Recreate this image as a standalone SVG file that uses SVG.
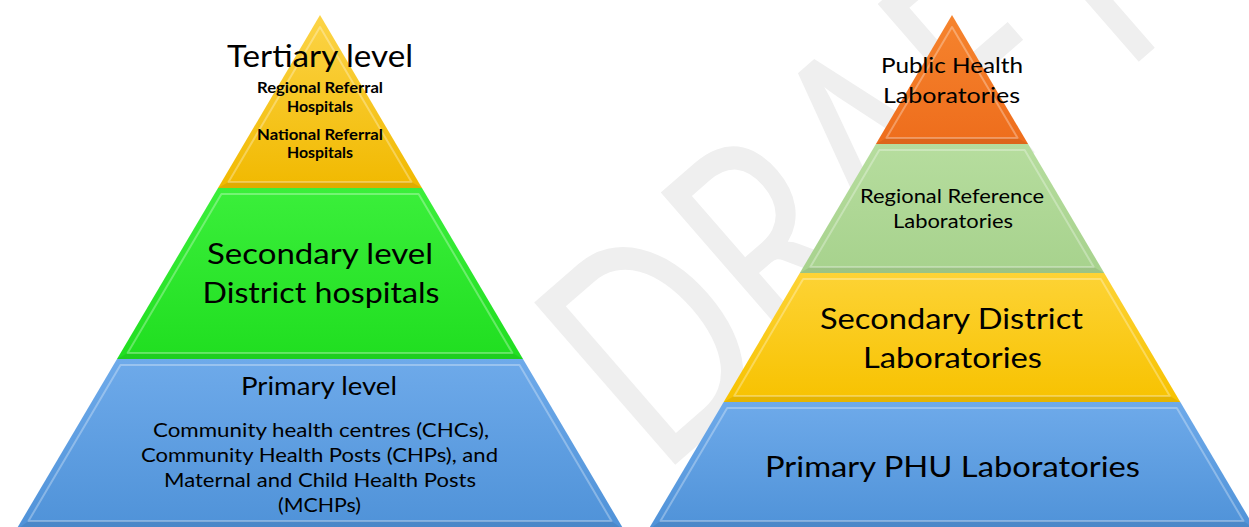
<svg xmlns="http://www.w3.org/2000/svg" width="1249" height="527" viewBox="0 0 1249 527">
<defs>
  <linearGradient id="gGold" x1="0" y1="0" x2="0" y2="1"><stop offset="0" stop-color="#fcd447"/><stop offset="1" stop-color="#f1b900"/></linearGradient>
  <linearGradient id="gGreen" x1="0" y1="0" x2="0" y2="1"><stop offset="0" stop-color="#3bef3b"/><stop offset="1" stop-color="#20de20"/></linearGradient>
  <linearGradient id="gBlue" x1="0" y1="0" x2="0" y2="1"><stop offset="0" stop-color="#6eaaea"/><stop offset="1" stop-color="#4f92d8"/></linearGradient>
  <linearGradient id="gOrange" x1="0" y1="0" x2="0" y2="1"><stop offset="0" stop-color="#f6842e"/><stop offset="1" stop-color="#ee6d1c"/></linearGradient>
  <linearGradient id="gLGreen" x1="0" y1="0" x2="0" y2="1"><stop offset="0" stop-color="#b6dd9e"/><stop offset="1" stop-color="#a7d28d"/></linearGradient>
  <linearGradient id="gYellow" x1="0" y1="0" x2="0" y2="1"><stop offset="0" stop-color="#fdd335"/><stop offset="1" stop-color="#f7c200"/></linearGradient>
</defs>
<style>
  .t{font-family:Lato,"Open Sans","Liberation Sans",sans-serif;fill:#000;text-anchor:middle}
  .b{font-weight:700}
  .hl{fill:none;stroke:#ffffff;stroke-opacity:0.3;stroke-width:2;stroke-linejoin:round}
  .sh{fill:#000;fill-opacity:0.07}
  .wm{font-family:Lato,"Open Sans","Liberation Sans",sans-serif;font-weight:400;fill:#efefef}
</style>
<rect width="1249" height="527" fill="#ffffff"/>
<g id="watermark">
  <text class="wm" transform="translate(660,478) rotate(-41)" font-size="300" textLength="710" lengthAdjust="spacingAndGlyphs">DRAFT</text>
</g>
<g id="left-pyramid">
  <g id="tertiary">
    <polygon points="320,15 422,188 218,188" fill="url(#gGold)"/>
    <polygon class="sh" points="218,188 422,188 411.5,182 228.5,182"/>
    <polygon class="hl" points="320,27 411.5,182 228.5,182"/>
    <text class="t" x="320" y="67" font-size="31" textLength="186" lengthAdjust="spacingAndGlyphs">Tertiary level</text>
    <text class="t b" x="320" y="93" font-size="15.5" textLength="126" lengthAdjust="spacingAndGlyphs">Regional Referral</text>
    <text class="t b" x="320" y="112" font-size="15.5" textLength="66" lengthAdjust="spacingAndGlyphs">Hospitals</text>
    <text class="t b" x="320" y="140" font-size="15.5" textLength="126" lengthAdjust="spacingAndGlyphs">National Referral</text>
    <text class="t b" x="320" y="158" font-size="15.5" textLength="66" lengthAdjust="spacingAndGlyphs">Hospitals</text>
  </g>
  <g id="secondary">
    <polygon points="218,188 422,188 523,359 117,359" fill="url(#gGreen)"/>
    <polygon class="sh" points="117,359 523,359 512.4,353 127.6,353"/>
    <polygon class="hl" points="221.4,194 418.6,194 512.4,353 127.6,353"/>
    <text class="t" x="320" y="264" font-size="29" textLength="226" lengthAdjust="spacingAndGlyphs">Secondary level</text>
    <text class="t" x="321" y="303" font-size="29" textLength="237" lengthAdjust="spacingAndGlyphs">District hospitals</text>
  </g>
  <g id="primary">
    <polygon points="117,359 523,359 624,530 16,530" fill="url(#gBlue)"/>
    <polygon class="sh" points="16,530 624,530 611.5,521 28.5,521"/>
    <polygon class="hl" points="120.5,365 519.5,365 611.5,521 28.5,521"/>
    <text class="t" x="319" y="395" font-size="25" textLength="156" lengthAdjust="spacingAndGlyphs">Primary level</text>
    <text class="t" x="321" y="437" font-size="20" textLength="336" lengthAdjust="spacingAndGlyphs">Community health centres (CHCs),</text>
    <text class="t" x="319.5" y="462" font-size="20" textLength="357" lengthAdjust="spacingAndGlyphs">Community Health Posts (CHPs), and</text>
    <text class="t" x="320" y="487" font-size="20" textLength="312" lengthAdjust="spacingAndGlyphs">Maternal and Child Health Posts</text>
    <text class="t" x="319.5" y="512" font-size="20" textLength="83" lengthAdjust="spacingAndGlyphs">(MCHPs)</text>
  </g>
</g>
<g id="right-pyramid">
  <g id="public-health-labs">
    <polygon points="952,15 1028.1,144 875.9,144" fill="url(#gOrange)"/>
    <polygon class="sh" points="875.9,144 1028.1,144 1017.6,138 886.4,138"/>
    <polygon class="hl" points="952,27 1017.6,138 886.4,138"/>
    <text class="t" x="952" y="73" font-size="22" textLength="142" lengthAdjust="spacingAndGlyphs">Public Health</text>
    <text class="t" x="951.5" y="103" font-size="22" textLength="137" lengthAdjust="spacingAndGlyphs">Laboratories</text>
  </g>
  <g id="regional-labs">
    <polygon points="875.9,144 1028.1,144 1104.2,273 799.8,273" fill="url(#gLGreen)"/>
    <polygon class="sh" points="799.8,273 1104.2,273 1093.7,267 810.3,267"/>
    <polygon class="hl" points="879.35,150 1024.65,150 1093.7,267 810.3,267"/>
    <text class="t" x="952" y="203" font-size="19.5" textLength="184" lengthAdjust="spacingAndGlyphs">Regional Reference</text>
    <text class="t" x="953" y="228" font-size="19.5" textLength="120" lengthAdjust="spacingAndGlyphs">Laboratories</text>
  </g>
  <g id="district-labs">
    <polygon points="799.8,273 1104.2,273 1180.3,402 723.7,402" fill="url(#gYellow)"/>
    <polygon class="sh" points="723.7,402 1180.3,402 1169.8,396 734.2,396"/>
    <polygon class="hl" points="803.2,279 1100.8,279 1169.8,396 734.2,396"/>
    <text class="t" x="951.5" y="329" font-size="29" textLength="263" lengthAdjust="spacingAndGlyphs">Secondary District</text>
    <text class="t" x="952.5" y="368" font-size="29" textLength="179" lengthAdjust="spacingAndGlyphs">Laboratories</text>
  </g>
  <g id="phu-labs">
    <polygon points="723.7,402 1180.3,402 1255.9,530 648.1,530" fill="url(#gBlue)"/>
    <polygon class="sh" points="648.1,530 1255.9,530 1243.5,521 660.5,521"/>
    <polygon class="hl" points="727.2,408 1176.8,408 1243.5,521 660.5,521"/>
    <text class="t" x="952.5" y="477" font-size="28" textLength="375" lengthAdjust="spacingAndGlyphs">Primary PHU Laboratories</text>
  </g>
</g>
<g id="connectors"/>
</svg>
